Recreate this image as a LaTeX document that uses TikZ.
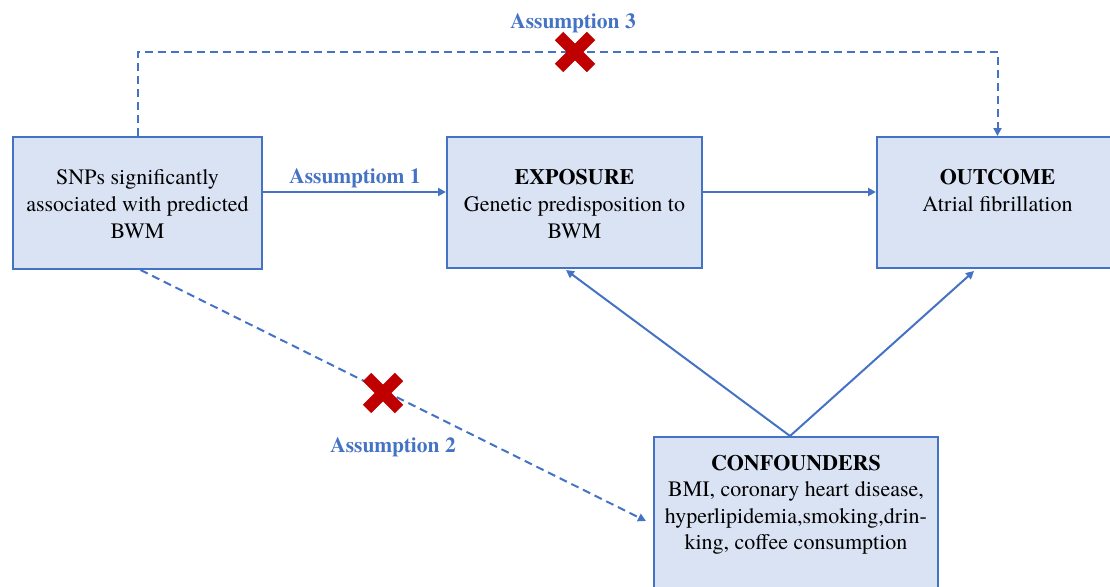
\documentclass[tikz,border=0pt]{standalone}
\usepackage{fontspec}
\setmainfont{texgyretermes}[Extension=.otf, UprightFont=*-regular, BoldFont=*-bold, ItalicFont=*-italic, BoldItalicFont=*-bolditalic]
\usetikzlibrary{arrows.meta}
\definecolor{lineblue}{HTML}{4472C4}
\definecolor{boxfill}{HTML}{DAE3F3}
\definecolor{xred}{HTML}{C00000}
\tikzset{
  box/.style={draw=lineblue, fill=boxfill, line width=2pt, inner sep=0pt, rectangle},
  body/.style={font=\rmfamily\mdseries\fontsize{22}{26.5}\selectfont, anchor=base, inner sep=0pt, text=black},
  head/.style={font=\rmfamily\fontsize{22}{26.5}\selectfont\bfseries, anchor=base, inner sep=0pt, text=black},
  lab/.style={font=\rmfamily\fontsize{21.5}{26}\selectfont\bfseries, anchor=base, inner sep=0pt, text=lineblue},
  arr/.style={draw=lineblue, line width=2pt, -{Triangle[length=8pt,width=8pt]}},
  dasharr/.style={draw=lineblue, line width=2pt, dash pattern=on 8pt off 5pt, -{Triangle[length=8pt,width=8pt]}},
  xarm/.style={draw=xred, line width=12pt, line cap=butt},
}
\begin{document}
\begin{tikzpicture}[x=1pt,y=-1pt]
\useasboundingbox (0,0) rectangle (1110,586);
\clip (0,0) rectangle (1110,586);
% boxes
\node[box, minimum width=249pt, minimum height=132pt] (snp) at (137.5,203) {};
\node[box, minimum width=255pt, minimum height=131pt] (exp) at (574.5,202.5) {};
\node[box, minimum width=241pt, minimum height=131pt] (out) at (997.5,202.5) {};
\node[box, minimum width=284pt, minimum height=173pt] (conf) at (796,523.5) {};
% texts
\node[body] (snp1) at (137.5,184) {SNPs significantly};
\node[body] (snp2) at (137.5,211) {associated with predicted};
\node[body] (snp3) at (137.5,238) {BWM};
\node[head] (exph) at (574.5,184) {EXPOSURE};
\node[body] (exp1) at (574.5,211) {Genetic predisposition to};
\node[body] (exp2) at (574.5,238) {BWM};
\node[head] (outh) at (997.5,184) {OUTCOME};
\node[body] (out1) at (997.5,211) {Atrial fibrillation};
\node[head] (confh) at (796,470) {CONFOUNDERS};
\node[body] (conf1) at (796,496.5) {BMI, coronary heart disease,};
\node[body] (conf2) at (796,523) {hyperlipidemia,smoking,drin-};
\node[body] (conf3) at (796,549.5) {king, coffee consumption};
% connectors
\draw[arr] ([yshift=11pt]snp.east) -- ([yshift=10.5pt]exp.west);
\draw[arr] ([yshift=10.5pt]exp.east) -- ([yshift=10.5pt]out.west);
\coordinate (apex) at ([xshift=-6pt]conf.north);
\draw[arr] (apex) -- ([xshift=-8.5pt,yshift=-1pt]exp.south);
\draw[arr] (apex) -- ([xshift=-23.5pt,yshift=-2pt]out.south);
\draw[dasharr] (snp.north) -- (snp.north |- 0,52) -| (out.north);
\draw[dasharr] ([xshift=3pt]snp.south) -- ([xshift=-7pt,yshift=2.5pt]conf.west);
% labels
\node[lab] (a1) at (355,183) {Assumptiom 1};
\node[lab] (a2) at (393,452) {Assumption 2};
\node[lab] (a3) at (573,29) {Assumption 3};
% red crosses
\draw[xarm] (559,36) -- (591,68);
\draw[xarm] (559,68) -- (591,36);
\draw[xarm] (367,377) -- (399,409);
\draw[xarm] (367,409) -- (399,377);
\end{tikzpicture}
\end{document}
